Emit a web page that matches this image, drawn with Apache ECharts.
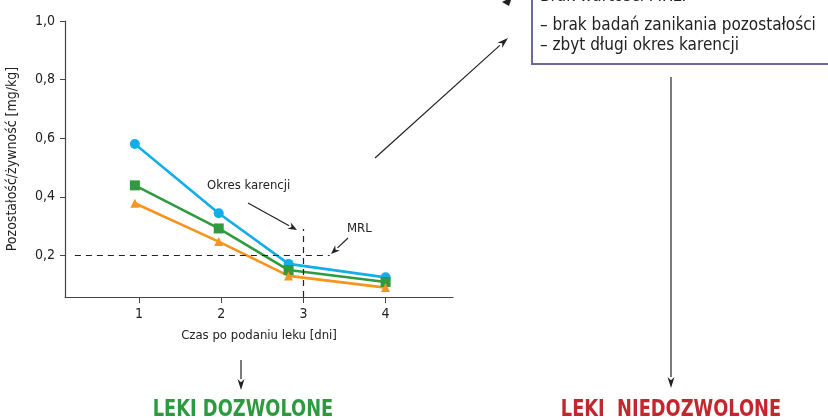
<!DOCTYPE html>
<html>
<head>
<meta charset="utf-8">
<script src="https://cdn.jsdelivr.net/npm/echarts@6/dist/echarts.min.js"></script>
<style>
  html, body { margin: 0; padding: 0; background: #fff; }
  #chart { width: 828px; height: 420px; }
</style>
</head>
<body>
<div id="chart"></div>
<script>
// dane
const yTicks = [0.2, 0.4, 0.6, 0.8, 1.0];
const xTicks = [1, 2, 3, 4];
const dni = [0.95, 1.97, 2.82, 4.0];
const seriaNiebieska = [0.58, 0.344, 0.171, 0.125];
const seriaZielona = [0.439, 0.292, 0.150, 0.109];
const seriaPomaranczowa = [0.378, 0.247, 0.130, 0.090];
const mrl = 0.2;
const okresKarencji = 3;

const FONT = "'Liberation Sans Narrow', 'DejaVu Sans Condensed', sans-serif";

function pary(xs, ys) {
  return xs.map((x, i) => [x, ys[i]]);
}

// strzałka: linia + grot
function strzalka(x1, y1, x2, y2, grot) {
  const a = Math.atan2(y2 - y1, x2 - x1);
  const L = grot || 9, W = 3.5;
  const bx = x2 - L * Math.cos(a), by = y2 - L * Math.sin(a);
  return [
    { type: 'line', shape: { x1: x1, y1: y1, x2: bx, y2: by }, style: { stroke: '#222', lineWidth: 1.2 } },
    { type: 'polygon', shape: { points: [
      [x2, y2],
      [bx - W * Math.sin(a), by + W * Math.cos(a)],
      [x2 - L * 0.7 * Math.cos(a), y2 - L * 0.7 * Math.sin(a)],
      [bx + W * Math.sin(a), by - W * Math.cos(a)]
    ] }, style: { fill: '#222' } }
  ];
}

function seria(nazwa, ys, kolor, symbol) {
  return {
    name: nazwa,
    type: 'line',
    data: pary(dni, ys),
    symbol: symbol,
    symbolSize: symbol === 'triangle' ? 9 : 10,
    lineStyle: { color: kolor, width: 2.6 },
    itemStyle: { color: kolor },
    z: 3
  };
}

// napis pogrubiony, ściśnięty w poziomie
function tytul(tekst, x, kolor) {
  return {
    type: 'text', x: x, y: 410, scaleX: 0.86, originX: 0,
    style: { text: tekst, font: 'bold 23px ' + FONT, fill: kolor, align: 'center', verticalAlign: 'middle' }
  };
}

const chart = echarts.init(document.getElementById('chart'));

const graphic = [].concat(
  strzalka(248, 203, 297, 230),
  strzalka(348, 238, 331, 254),
  strzalka(375, 158, 508, 38, 11),
  strzalka(241, 360, 241, 390, 11),
  strzalka(671, 77, 671, 388, 11),
  [
    { type: 'polygon', shape: { points: [[502, 2], [512, -3], [509, 6]] }, style: { fill: '#222' } },
    { type: 'text', left: 207, top: 179, style: { text: 'Okres karencji', font: '13px ' + FONT, fill: '#222' } },
    { type: 'text', left: 347, top: 222, style: { text: 'MRL', font: '13px ' + FONT, fill: '#222' } },
    { type: 'rect', shape: { x: 532, y: -20, width: 320, height: 84 }, style: { fill: '#fff', stroke: '#6e6a96', lineWidth: 2 } },
    { type: 'text', left: 540, top: -12, style: { text: 'Brak wartości MRL:', font: '17px ' + FONT, fill: '#222' } },
    { type: 'text', left: 540, top: 17, style: { text: '– brak badań zanikania pozostałości', font: '17px ' + FONT, fill: '#222' } },
    { type: 'text', left: 540, top: 37, style: { text: '– zbyt długi okres karencji', font: '17px ' + FONT, fill: '#222' } },
    tytul('LEKI DOZWOLONE', 243, '#2e9a40'),
    tytul('LEKI  NIEDOZWOLONE', 671, '#c1272d')
  ]
);

chart.setOption({
  animation: false,
  backgroundColor: '#fff',
  grid: { left: 65, top: 21, right: 375, bottom: 123 },
  xAxis: {
    type: 'value',
    min: 0.1,
    max: 4.82,
    name: 'Czas po podaniu leku [dni]',
    nameLocation: 'middle',
    nameGap: 32,
    nameTextStyle: { fontFamily: FONT, fontSize: 13, color: '#222' },
    axisLine: { lineStyle: { color: '#444', width: 1.2 } },
    axisTick: { show: true, customValues: xTicks, length: 6, lineStyle: { color: '#444' } },
    axisLabel: { customValues: xTicks, fontFamily: FONT, fontSize: 14, color: '#222', margin: 10 },
    splitLine: { show: false }
  },
  yAxis: {
    type: 'value',
    min: 0.058,
    max: 1.0,
    name: 'Pozostałość/żywność [mg/kg]',
    nameLocation: 'middle',
    nameGap: 46,
    nameTextStyle: { fontFamily: FONT, fontSize: 14, color: '#222' },
    axisLine: { show: true, lineStyle: { color: '#444', width: 1.2 } },
    axisTick: { show: true, customValues: yTicks, length: 5, lineStyle: { color: '#444' } },
    axisLabel: {
      customValues: yTicks,
      fontFamily: FONT, fontSize: 14, color: '#222', margin: 10,
      formatter: v => v.toFixed(1).replace('.', ',')
    },
    splitLine: { show: false }
  },
  series: [
    seria('A', seriaNiebieska, '#13aee8', 'circle'),
    seria('B', seriaZielona, '#2f9a3f', 'rect'),
    seria('C', seriaPomaranczowa, '#f7941d', 'triangle'),
    {
      type: 'line',
      data: [],
      silent: true,
      markLine: {
        symbol: 'none',
        silent: true,
        label: { show: false },
        lineStyle: { color: '#222', type: [6, 5], width: 1.2 },
        data: [
          [{ coord: [0.22, mrl] }, { coord: [3.32, mrl] }],
          [{ coord: [okresKarencji, 0.058] }, { coord: [okresKarencji, 0.29] }]
        ]
      }
    }
  ],
  graphic: graphic
});
</script>
</body>
</html>
